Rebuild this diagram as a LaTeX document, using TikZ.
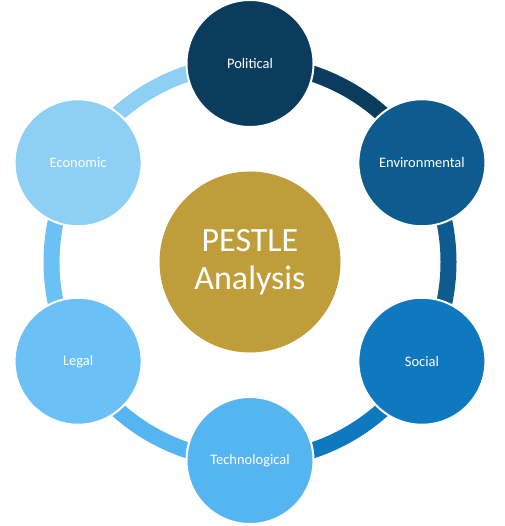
\documentclass[tikz,border=0pt]{standalone}
\usepackage{fontspec}
\setmainfont{Carlito}
\usetikzlibrary{calc}
\definecolor{cPol}{RGB}{11,60,93}
\definecolor{cEnv}{RGB}{14,92,143}
\definecolor{cSoc}{RGB}{15,121,191}
\definecolor{cTec}{RGB}{85,181,240}
\definecolor{cLeg}{RGB}{107,192,245}
\definecolor{cEco}{RGB}{142,207,245}
\definecolor{cGold}{RGB}{191,157,59}
\begin{document}
\begin{tikzpicture}[x=1pt,y=1pt,
  outer/.style={circle,minimum size=127pt,inner sep=0pt,draw=white,line width=2pt,
    text=white,font=\fontsize{14.5}{17}\selectfont},
  ringarc/.style={line width=16pt},
  center/.style={circle,minimum size=181pt,inner sep=0pt,fill=cGold,text=white,
    align=center,font=\fontsize{34}{38}\selectfont}]
\useasboundingbox (0,0) rectangle (504,526);
\coordinate (C) at (250,264);
\def\R{198.5}
% ring arcs
\draw[ringarc,cPol] (C) ++(90:\R) arc[start angle=90,end angle=30,radius=\R];
\draw[ringarc,cEnv] (C) ++(30:\R) arc[start angle=30,end angle=-30,radius=\R];
\draw[ringarc,cSoc] (C) ++(-30:\R) arc[start angle=-30,end angle=-90,radius=\R];
\draw[ringarc,cTec] (C) ++(-90:\R) arc[start angle=-90,end angle=-150,radius=\R];
\draw[ringarc,cLeg] (C) ++(210:\R) arc[start angle=210,end angle=150,radius=\R];
\draw[ringarc,cEco] (C) ++(150:\R) arc[start angle=150,end angle=90,radius=\R];
% circles
\node[outer,fill=cPol] (pol) at ($(C)+(90:\R)$) {Political};
\node[outer,fill=cEnv] (env) at ($(C)+(30:\R)$) {Environmental};
\node[outer,fill=cSoc] (soc) at ($(C)+(-30:\R)$) {Social};
\node[outer,fill=cTec] (tec) at ($(C)+(-90:\R)$) {Technological};
\node[outer,fill=cLeg] (leg) at ($(C)+(210:\R)$) {Legal};
\node[outer,fill=cEco] (eco) at ($(C)+(150:\R)$) {Economic};
\node[center] (mid) at (C) {PESTLE\\Analysis};
\end{tikzpicture}
\end{document}
